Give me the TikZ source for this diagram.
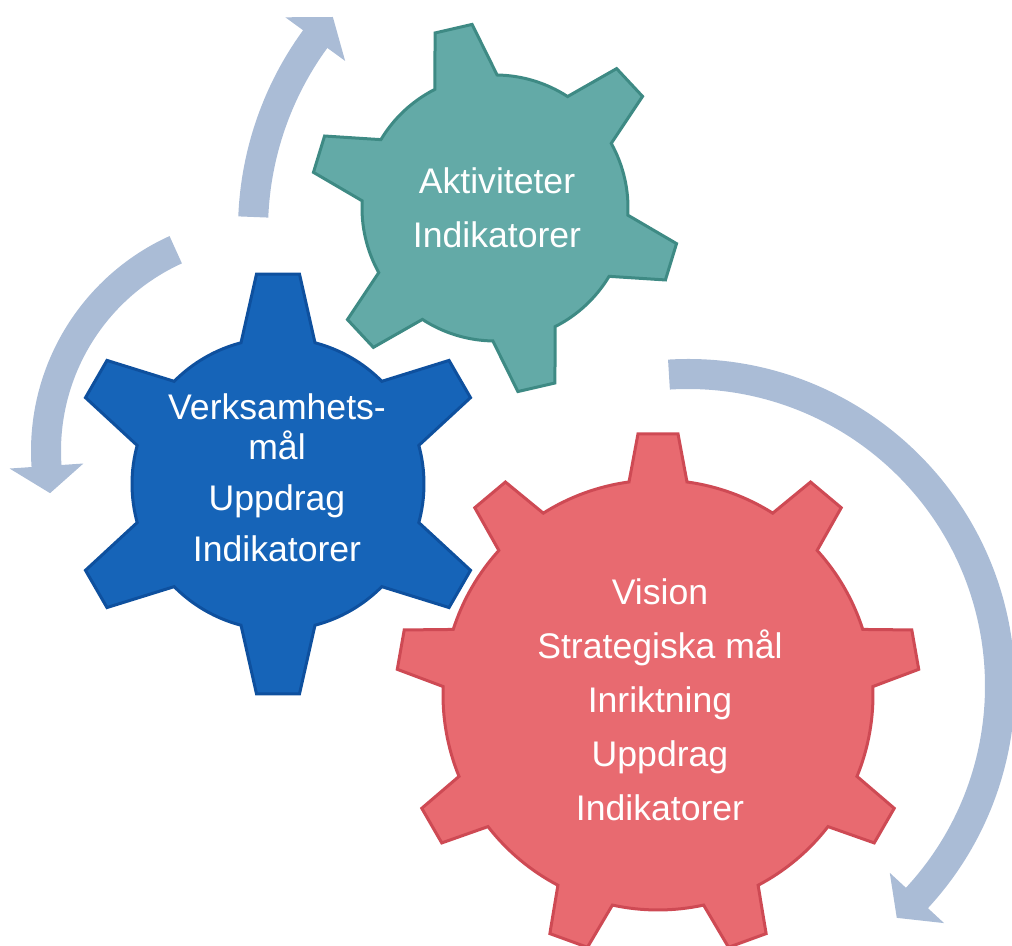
\documentclass[tikz,border=0pt]{standalone}
\usepackage{fontspec}
\setmainfont{Liberation Sans}
\usepackage{xcolor}

\definecolor{tealcog}{RGB}{99,170,167}
\definecolor{tealedge}{RGB}{62,138,132}
\definecolor{bluecog}{RGB}{22,100,184}
\definecolor{blueedge}{RGB}{14,80,158}
\definecolor{redcog}{RGB}{232,106,112}
\definecolor{rededge}{RGB}{206,74,84}
\definecolor{cyclearrow}{RGB}{170,188,214}

\newcommand{\drawcog}[8]{%
  \pgfmathsetmacro{\cogb}{asin(#6/#4)}%
  \pgfmathsetmacro{\cogt}{asin(#7/#5)}%
  \pgfmathsetmacro{\cogstep}{360/#2}%
  \path[shift={#1},#8] ({#3-\cogb}:#4)
    \foreach \k [evaluate=\k as \ang using {#3+(\k-1)*\cogstep}] in {1,...,#2} {
      -- ({\ang-\cogt}:#5) -- ({\ang+\cogt}:#5) -- ({\ang+\cogb}:#4)
      arc[start angle={\ang+\cogb}, end angle={\ang+\cogstep-\cogb}, radius=#4]
    } -- cycle;}

\newcommand{\drawbentarrow}[5]{%
  \fill[shift={#1},roundarrow] ({#3}:{#2+15})
    arc[start angle=#3, end angle=#4, radius={#2+15}]
    -- ({#4}:{#2+37}) -- ({#5}:{#2}) -- ({#4}:{#2-37}) -- ({#4}:{#2-15})
    arc[start angle=#4, end angle=#3, radius={#2-15}] -- cycle;}

\begin{document}
\begin{tikzpicture}[x=0.5pt, y=0.5pt,
    cogtext/.style = {text=white, align=center,
      font=\fontsize{17.8}{27}\selectfont},
    roundarrow/.style = {fill=cyclearrow}]
  \useasboundingbox (0,0) rectangle (1012,946);
  \clip (0,0) rectangle (1012,946);

  \coordinate (tealc) at (495,738);
  \coordinate (bluec) at (278,462);
  \coordinate (redc) at (658,251);
  \coordinate (arcup) at (577,716);
  \coordinate (arcleft) at (267,495);
  \coordinate (arcright) at (688,260);

  \drawbentarrow{(arcup)}{324}{177.7}{143.9}{138.9}
  \drawbentarrow{(arcleft)}{221}{114.4}{183.9}{191}
  \drawbentarrow{(arcright)}{312}{93.5}{-42.8}{-48}

  \drawcog{(tealc)}{6}{103}{133}{185}{32}{19}{fill=tealcog, draw=tealedge, line width=1.5}
  \drawcog{(bluec)}{6}{90}{146}{211}{37}{21.5}{fill=bluecog, draw=blueedge, line width=1.5}
  \drawcog{(redc)}{9}{90}{215}{262}{29}{20}{fill=redcog, draw=rededge, line width=1.5}

  \node[cogtext] (aktiviteter) at (497,738) {Aktiviteter\\Indikatorer};
  \node[cogtext, font=\fontsize{17.8}{25.5}\selectfont] (verksamhet) at (277,468)
    {Verksamhets-\\[-5.5pt]mål\\Uppdrag\\Indikatorer};
  \node[cogtext] (vision) at (660,246)
    {Vision\\Strategiska mål\\Inriktning\\Uppdrag\\Indikatorer};
\end{tikzpicture}
\end{document}
